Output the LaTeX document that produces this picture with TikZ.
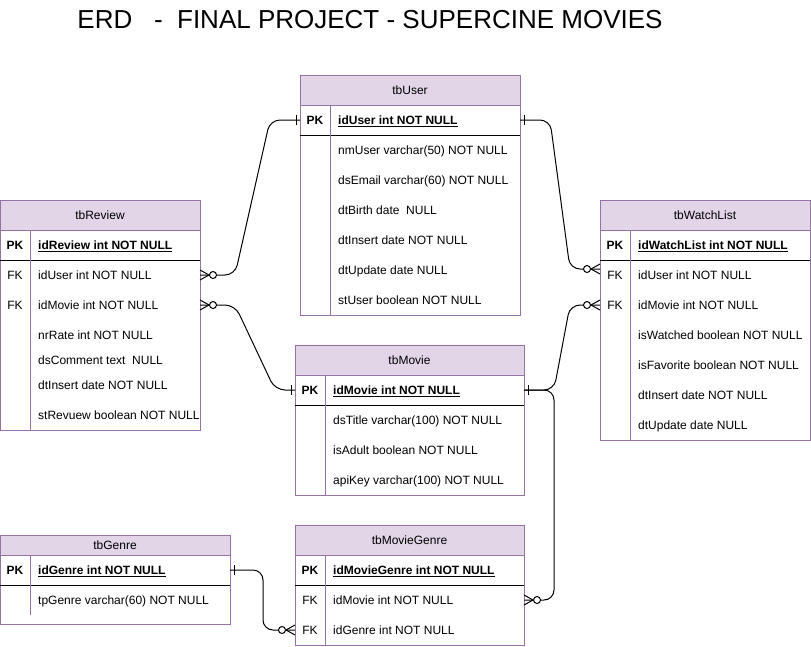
\documentclass[tikz,border=0pt]{standalone}
\usepackage{fontspec}
\setmainfont{Liberation Sans}
\definecolor{bord}{HTML}{9673A6}
\definecolor{hdrfill}{HTML}{E1D5E7}
\newcommand\fsz{\fontsize{12pt}{14pt}\selectfont}
\begin{document}
\begin{tikzpicture}[x=1pt,y=-1pt,
  tbl/.style={draw=bord, line width=1pt, anchor=north west, inner sep=0pt, outer sep=0pt},
  hdr/.style={draw=bord, fill=hdrfill, line width=1pt, anchor=north west, inner sep=0pt, outer sep=0pt, font=\fsz},
  keyt/.style={font=\fsz, inner sep=0pt, text height=8.6pt, text depth=0pt},
  pkkey/.style={font=\fsz\bfseries, inner sep=0pt, text height=8.6pt, text depth=0pt},
  fld/.style={font=\fsz, anchor=west, inner sep=0pt, text height=8.6pt, text depth=0pt},
  pkfld/.style={font=\fsz\bfseries, anchor=west, inner sep=0pt, text height=8.6pt, text depth=0pt},
  rowa/.style={anchor=west, minimum width=#1, minimum height=1pt, inner sep=0pt, outer sep=0pt},
  sepl/.style={line width=1pt, black},
  vsep/.style={line width=1pt, bord},
  conn/.style={line width=1pt, rounded corners=10pt},
  one/.pic={\draw[line width=1pt] (0,-5) -- (0,5);},
  zmany/.pic={\draw[line width=1pt] (0,-5) -- (9,0) -- (0,5); \draw[line width=1pt, fill=white] (13,0) circle (3.5);}
]
\useasboundingbox (0,0) rectangle (811,646);

% title
\node[font=\fontsize{26pt}{30pt}\selectfont, inner sep=0pt] (title) at (370,20) {ERD\ \ \ -\ \ FINAL PROJECT - SUPERCINE MOVIES};

% ===== tbUser =====
\node[tbl, minimum width=220pt, minimum height=240pt] (user) at (300,75) {};
\node[hdr, minimum width=220pt, minimum height=30pt] (user-h) at (300,75) {tbUser};
\draw[sepl] (300,135) -- (520,135);
\draw[vsep] (330,105) -- (330,315);
\node[rowa=220pt] (user-pk) at (300,120) {};
\node[pkkey] (user-k1) at (315,120) {PK};
\node[pkfld] (user-f1) at (338,120) {\underline{idUser int NOT NULL}};
\node[fld] (user-f2) at (338,150) {nmUser varchar(50) NOT NULL};
\node[fld] (user-f3) at (338,180) {dsEmail varchar(60) NOT NULL};
\node[fld] (user-f4) at (338,210) {dtBirth date\ \ NULL};
\node[fld] (user-f5) at (338,240) {dtInsert date NOT NULL};
\node[fld] (user-f6) at (338,270) {dtUpdate date NULL};
\node[fld] (user-f7) at (338,300) {stUser boolean NOT NULL};

% ===== tbReview =====
\node[tbl, minimum width=200pt, minimum height=230pt] (rev) at (0,200) {};
\node[hdr, minimum width=200pt, minimum height=30pt] (rev-h) at (0,200) {tbReview};
\draw[sepl] (0,260) -- (200,260);
\draw[vsep] (30,230) -- (30,430);
\node[rowa=200pt] (rev-uid) at (0,275) {};
\node[rowa=200pt] (rev-mid) at (0,305) {};
\node[pkkey] (rev-k1) at (15,245) {PK};
\node[keyt] (rev-k2) at (15,275) {FK};
\node[keyt] (rev-k3) at (15,305) {FK};
\node[pkfld] (rev-f1) at (38,245) {\underline{idReview int NOT NULL}};
\node[fld] (rev-f2) at (38,275) {idUser int NOT NULL};
\node[fld] (rev-f3) at (38,305) {idMovie int NOT NULL};
\node[fld] (rev-f4) at (38,335) {nrRate int NOT NULL};
\node[fld] (rev-f5) at (38,360) {dsComment text\ \ NULL};
\node[fld] (rev-f6) at (38,385) {dtInsert date NOT NULL};
\node[fld] (rev-f7) at (38,415) {stRevuew boolean NOT NULL};

% ===== tbWatchList =====
\node[tbl, minimum width=210pt, minimum height=240pt] (wl) at (600,200) {};
\node[hdr, minimum width=210pt, minimum height=30pt] (wl-h) at (600,200) {tbWatchList};
\draw[sepl] (600,260) -- (810,260);
\draw[vsep] (630,230) -- (630,440);
\node[rowa=210pt] (wl-uid) at (600,269) {};
\node[rowa=210pt] (wl-mid) at (600,305) {};
\node[pkkey] (wl-k1) at (615,245) {PK};
\node[keyt] (wl-k2) at (615,275) {FK};
\node[keyt] (wl-k3) at (615,305) {FK};
\node[pkfld] (wl-f1) at (638,245) {\underline{idWatchList int NOT NULL}};
\node[fld] (wl-f2) at (638,275) {idUser int NOT NULL};
\node[fld] (wl-f3) at (638,305) {idMovie int NOT NULL};
\node[fld] (wl-f4) at (638,335) {isWatched boolean NOT NULL};
\node[fld] (wl-f5) at (638,365) {isFavorite boolean NOT NULL};
\node[fld] (wl-f6) at (638,395) {dtInsert date NOT NULL};
\node[fld] (wl-f7) at (638,425) {dtUpdate date NULL};

% ===== tbMovie =====
\node[tbl, minimum width=229pt, minimum height=150pt] (mov) at (295,345) {};
\node[hdr, minimum width=229pt, minimum height=30pt] (mov-h) at (295,345) {tbMovie};
\draw[sepl] (295,405) -- (524,405);
\draw[vsep] (325,375) -- (325,495);
\node[rowa=229pt] (mov-pk) at (295,390) {};
\node[pkkey] (mov-k1) at (310,390) {PK};
\node[pkfld] (mov-f1) at (333,390) {\underline{idMovie int NOT NULL}};
\node[fld] (mov-f2) at (333,420) {dsTitle varchar(100) NOT NULL};
\node[fld] (mov-f3) at (333,450) {isAdult boolean NOT NULL};
\node[fld] (mov-f4) at (333,480) {apiKey varchar(100) NOT NULL};

% ===== tbGenre =====
\node[tbl, minimum width=230pt, minimum height=89pt] (gen) at (0,535) {};
\node[hdr, minimum width=230pt, minimum height=20pt] (gen-h) at (0,535) {tbGenre};
\draw[sepl] (0,585) -- (230,585);
\draw[vsep] (30,555) -- (30,615);
\node[rowa=230pt] (gen-pk) at (0,570) {};
\node[pkkey] (gen-k1) at (15,570) {PK};
\node[pkfld] (gen-f1) at (38,570) {\underline{idGenre int NOT NULL}};
\node[fld] (gen-f2) at (38,600) {tpGenre varchar(60) NOT NULL};

% ===== tbMovieGenre =====
\node[tbl, minimum width=229pt, minimum height=120pt] (mg) at (295,525) {};
\node[hdr, minimum width=229pt, minimum height=30pt] (mg-h) at (295,525) {tbMovieGenre};
\draw[sepl] (295,585) -- (524,585);
\draw[vsep] (325,555) -- (325,645);
\node[rowa=229pt] (mg-mid) at (295,600) {};
\node[rowa=229pt] (mg-gid) at (295,630) {};
\node[pkkey] (mg-k1) at (310,570) {PK};
\node[keyt] (mg-k2) at (310,600) {FK};
\node[keyt] (mg-k3) at (310,630) {FK};
\node[pkfld] (mg-f1) at (333,570) {\underline{idMovieGenre int NOT NULL}};
\node[fld] (mg-f2) at (333,600) {idMovie int NOT NULL};
\node[fld] (mg-f3) at (333,630) {idGenre int NOT NULL};

% ===== connectors =====
\draw[conn] (rev-uid.east) -- ++(35,0) -- ([xshift=-30pt]user-pk.west) -- (user-pk.west);
\draw[conn] (rev-mid.east) -- ++(35,0) -- ([xshift=-20pt]mov-pk.west) -- (mov-pk.west);
\draw[conn] (user-pk.east) -- ++(30,0) -- ([xshift=-30pt]wl-uid.west) -- (wl-uid.west);
\draw[conn] (wl-mid.west) -- ++(-30,0) -- ([xshift=30pt]mov-pk.east) -- (mov-pk.east);
\draw[conn] (mov-pk.east) -- ++(30,0) -- ([xshift=30pt]mg-mid.east) -- (mg-mid.east);
\draw[conn] (gen-pk.east) -- ++(33,0) -- ([xshift=-32pt]mg-gid.west) -- (mg-gid.west);

% ===== end markers =====
\pic at (rev-uid.east) {zmany};
\pic at (rev-mid.east) {zmany};
\pic at (mg-mid.east) {zmany};
\pic[xscale=-1] at (wl-uid.west) {zmany};
\pic[xscale=-1] at (wl-mid.west) {zmany};
\pic[xscale=-1] at (mg-gid.west) {zmany};
\pic at ([xshift=-4pt]user-pk.west) {one};
\pic at ([xshift=4pt]user-pk.east) {one};
\pic at ([xshift=-4pt]mov-pk.west) {one};
\pic at ([xshift=4pt]mov-pk.east) {one};
\pic at ([xshift=4pt]gen-pk.east) {one};
\end{tikzpicture}
\end{document}
